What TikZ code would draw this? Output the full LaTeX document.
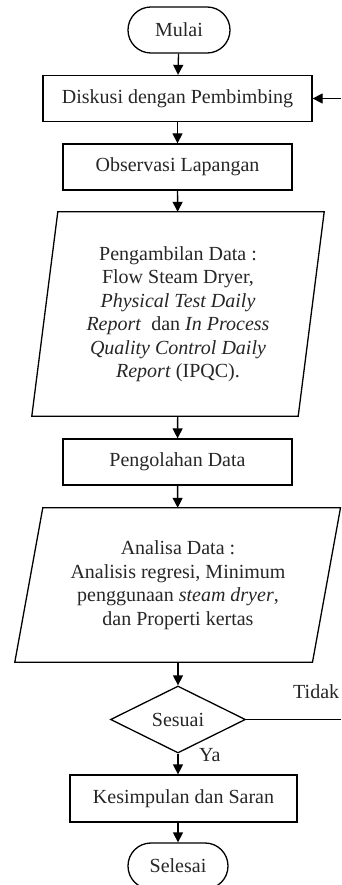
\documentclass[tikz,border=0pt]{standalone}
\usepackage{fontspec}
\setmainfont{Liberation Serif}
\usetikzlibrary{shapes.geometric,arrows.meta}
\begin{document}
\begin{tikzpicture}[x=1pt,y=-1pt,
  every node/.style={font=\fontsize{20}{23.5}\selectfont, text=black!85},
  box/.style={draw, line width=1.3pt, minimum width=#1, minimum height=46pt, inner sep=0pt},
  term/.style={draw, line width=1.3pt, rounded corners=22.9pt, minimum width=#1, minimum height=46pt, inner sep=0pt},
  para/.style={rectangle, inner sep=0pt, align=center},
  dec/.style={draw, diamond, line width=1.3pt, inner sep=0pt, minimum width=135pt, minimum height=67pt},
  arr/.style={-{Triangle[length=10pt,width=10pt]}, line width=1.3pt},
  lin/.style={line width=1.3pt, line join=miter},
  lbl/.style={inner sep=0pt}
]
\useasboundingbox (0,0) rectangle (341,885);
\clip (0,0) rectangle (341,885);
\node[term=102pt] (mulai) at (179,30) {Mulai};
\node[box=269pt] (disk) at (177.5,98.5) {Diskusi dengan Pembimbing};
\node[box=229pt] (obs) at (177.5,167) {Observasi Lapangan};
\node[para, minimum width=292pt, minimum height=204pt] (ambil) at (178,314)
  {Pengambilan Data :\\ Flow Steam Dryer,\\ \textit{Physical Test Daily}\\ \textit{Report}\ \ dan \textit{In Process}\\ \textit{Quality Control Daily}\\ \textit{Report} (IPQC).};
\draw[lin] ([xshift=26pt]ambil.north west) -- (ambil.north east) -- ([xshift=-26pt]ambil.south east) -- (ambil.south west) -- cycle;
\node[box=229pt] (olah) at (177.5,462) {Pengolahan Data};
\node[para, minimum width=326pt, minimum height=154pt] (anal) at (178,585)
  {Analisa Data :\\ Analisis regresi, Minimum\\ penggunaan \textit{steam dryer},\\ dan Properti kertas};
\draw[lin] ([xshift=28pt]anal.north west) -- ([xshift=-0.7pt]anal.north east) -- ([xshift=-28.7pt]anal.south east) -- (anal.south west) -- cycle;
\node[dec] (sesuai) at (178,719.5) {Sesuai};
\node[box=227pt, minimum height=47pt] (kes) at (183.5,798.5) {Kesimpulan dan Saran};
\node[term=100pt] (selesai) at (178,866) {Selesai};
\coordinate (r1) at (341,719.5);
\coordinate (r2) at (341,98.5);
\node[lbl, anchor=west] (tidak) at (293,692) {Tidak};
\node[lbl, anchor=west] (ya) at (199,755) {Ya};

\draw[arr] (mulai) -- (disk);
\draw[arr] (disk) -- (obs);
\draw[arr] (obs) -- (ambil);
\draw[arr] (ambil) -- (olah);
\draw[arr] (olah) -- (anal);
\draw[arr] (anal) -- (sesuai);
\draw[arr] (sesuai.south) -- (sesuai.south |- kes.north);
\draw[arr] (kes.south -| selesai.north) -- (selesai.north);
\draw[lin] (sesuai.east) -- (r1);
\draw[arr] (r2) -- (disk.east);
\end{tikzpicture}
\end{document}
